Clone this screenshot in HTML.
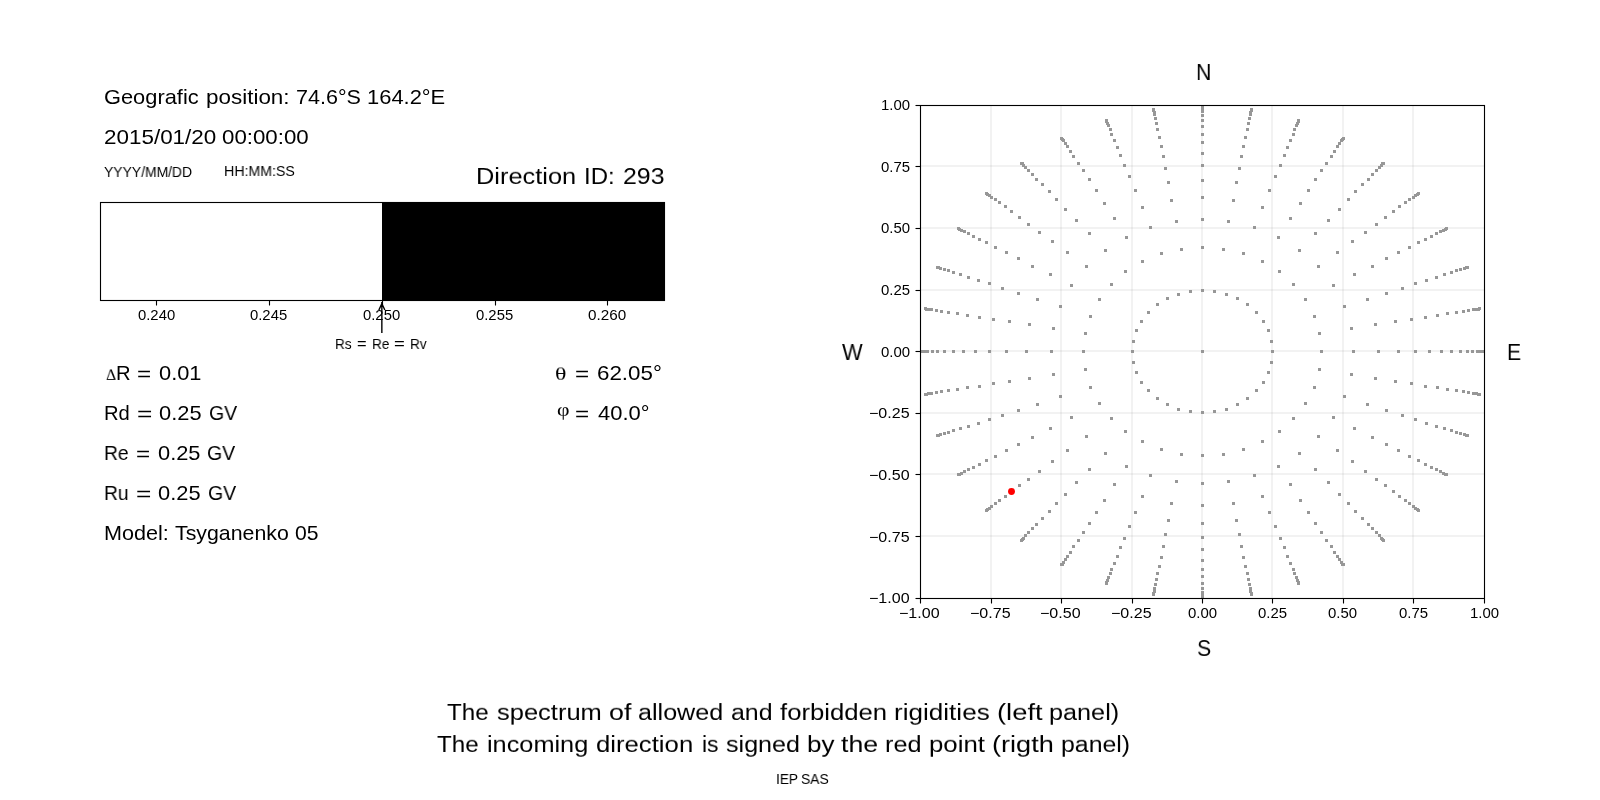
<!DOCTYPE html>
<html lang="en"><head><meta charset="utf-8"><title>Allowed and forbidden rigidities</title>
<style>
html,body{margin:0;padding:0;background:#fff}
body{width:1600px;height:800px;position:relative;overflow:hidden;font-family:"Liberation Sans", sans-serif;color:#000}
.t,.g{position:absolute;white-space:nowrap;line-height:0;transform-origin:0 0;color:#000;will-change:transform}
.t{font-family:"Liberation Sans", sans-serif}.a{font-size:14.4px}.b{font-size:20.2px}.c{font-size:23px;line-height:18px}
.g{font-family:"Liberation Serif", serif;font-size:18px}
</style></head><body>
<svg width="1600" height="800" viewBox="0 0 1600 800" style="position:absolute;left:0;top:0" shape-rendering="crispEdges">
<rect x="382" y="202" width="283" height="99" fill="#000"/>
<rect x="100" y="201" width="565" height="3" fill="#000" fill-opacity=".055"/>
<rect x="100" y="202" width="565" height="1" fill="#000"/>
<rect x="100" y="299" width="565" height="3" fill="#000" fill-opacity=".055"/>
<rect x="100" y="300" width="565" height="1" fill="#000"/>
<rect x="99" y="202" width="3" height="99" fill="#000" fill-opacity=".055"/>
<rect x="100" y="202" width="1" height="99" fill="#000"/>
<rect x="663" y="202" width="3" height="99" fill="#000" fill-opacity=".055"/>
<rect x="664" y="202" width="1" height="99" fill="#000"/>
<rect x="155" y="301" width="3" height="4" fill="#000" fill-opacity=".055"/>
<rect x="156" y="301" width="1" height="4" fill="#000"/>
<rect x="156" y="305" width="1" height="1" fill="#000" fill-opacity=".5"/>
<rect x="268" y="301" width="3" height="4" fill="#000" fill-opacity=".055"/>
<rect x="269" y="301" width="1" height="4" fill="#000"/>
<rect x="269" y="305" width="1" height="1" fill="#000" fill-opacity=".5"/>
<rect x="381" y="301" width="3" height="4" fill="#000" fill-opacity=".055"/>
<rect x="382" y="301" width="1" height="4" fill="#000"/>
<rect x="382" y="305" width="1" height="1" fill="#000" fill-opacity=".5"/>
<rect x="494" y="301" width="3" height="4" fill="#000" fill-opacity=".055"/>
<rect x="495" y="301" width="1" height="4" fill="#000"/>
<rect x="495" y="305" width="1" height="1" fill="#000" fill-opacity=".5"/>
<rect x="606" y="301" width="3" height="4" fill="#000" fill-opacity=".055"/>
<rect x="607" y="301" width="1" height="4" fill="#000"/>
<rect x="607" y="305" width="1" height="1" fill="#000" fill-opacity=".5"/>
<rect x="990" y="106" width="2" height="492" fill="#808080" fill-opacity=".1"/>
<rect x="921" y="535" width="563" height="2" fill="#808080" fill-opacity=".1"/>
<rect x="1060" y="106" width="2" height="492" fill="#808080" fill-opacity=".1"/>
<rect x="921" y="473" width="563" height="2" fill="#808080" fill-opacity=".1"/>
<rect x="1131" y="106" width="2" height="492" fill="#808080" fill-opacity=".1"/>
<rect x="921" y="412" width="563" height="2" fill="#808080" fill-opacity=".1"/>
<rect x="1201" y="106" width="2" height="492" fill="#808080" fill-opacity=".1"/>
<rect x="921" y="350" width="563" height="2" fill="#808080" fill-opacity=".1"/>
<rect x="1271" y="106" width="2" height="492" fill="#808080" fill-opacity=".1"/>
<rect x="921" y="289" width="563" height="2" fill="#808080" fill-opacity=".1"/>
<rect x="1342" y="106" width="2" height="492" fill="#808080" fill-opacity=".1"/>
<rect x="921" y="227" width="563" height="2" fill="#808080" fill-opacity=".1"/>
<rect x="1412" y="106" width="2" height="492" fill="#808080" fill-opacity=".1"/>
<rect x="921" y="165" width="563" height="2" fill="#808080" fill-opacity=".1"/>
<clipPath id="c"><rect x="920" y="105" width="565" height="494"/></clipPath>
<path clip-path="url(#c)" fill="#979797" d="M1201 350h3v3h-3zM1271 350h3v3h-3zM1270 340h3v3h-3zM1267 329h3v3h-3zM1262 320h3v3h-3zM1255 311h3v3h-3zM1246 303h3v3h-3zM1236 297h3v3h-3zM1225 293h3v3h-3zM1213 290h3v3h-3zM1201 289h3v3h-3zM1189 290h3v3h-3zM1177 293h3v3h-3zM1166 297h3v3h-3zM1156 303h3v3h-3zM1147 311h3v3h-3zM1140 320h3v3h-3zM1135 329h3v3h-3zM1132 340h3v3h-3zM1131 350h3v3h-3zM1132 361h3v3h-3zM1135 371h3v3h-3zM1140 381h3v3h-3zM1147 389h3v3h-3zM1156 397h3v3h-3zM1166 403h3v3h-3zM1177 408h3v3h-3zM1189 410h3v3h-3zM1201 411h3v3h-3zM1213 410h3v3h-3zM1225 408h3v3h-3zM1236 403h3v3h-3zM1246 397h3v3h-3zM1255 389h3v3h-3zM1262 381h3v3h-3zM1267 371h3v3h-3zM1270 361h3v3h-3zM1320 350h3v3h-3zM1318 332h3v3h-3zM1313 315h3v3h-3zM1304 298h3v3h-3zM1292 283h3v3h-3zM1278 270h3v3h-3zM1261 260h3v3h-3zM1242 252h3v3h-3zM1222 248h3v3h-3zM1201 246h3v3h-3zM1180 248h3v3h-3zM1160 252h3v3h-3zM1141 260h3v3h-3zM1124 270h3v3h-3zM1110 283h3v3h-3zM1098 298h3v3h-3zM1089 315h3v3h-3zM1084 332h3v3h-3zM1082 350h3v3h-3zM1084 368h3v3h-3zM1089 386h3v3h-3zM1098 402h3v3h-3zM1110 417h3v3h-3zM1124 430h3v3h-3zM1141 440h3v3h-3zM1160 448h3v3h-3zM1180 453h3v3h-3zM1201 454h3v3h-3zM1222 453h3v3h-3zM1242 448h3v3h-3zM1261 440h3v3h-3zM1278 430h3v3h-3zM1292 417h3v3h-3zM1304 402h3v3h-3zM1313 386h3v3h-3zM1318 368h3v3h-3zM1352 350h3v3h-3zM1350 327h3v3h-3zM1343 305h3v3h-3zM1332 284h3v3h-3zM1317 265h3v3h-3zM1298 249h3v3h-3zM1277 236h3v3h-3zM1253 226h3v3h-3zM1227 220h3v3h-3zM1201 218h3v3h-3zM1175 220h3v3h-3zM1149 226h3v3h-3zM1125 236h3v3h-3zM1104 249h3v3h-3zM1085 265h3v3h-3zM1070 284h3v3h-3zM1059 305h3v3h-3zM1052 327h3v3h-3zM1050 350h3v3h-3zM1052 373h3v3h-3zM1059 395h3v3h-3zM1070 416h3v3h-3zM1085 435h3v3h-3zM1104 452h3v3h-3zM1125 465h3v3h-3zM1149 474h3v3h-3zM1175 480h3v3h-3zM1201 482h3v3h-3zM1227 480h3v3h-3zM1253 474h3v3h-3zM1277 465h3v3h-3zM1298 452h3v3h-3zM1317 435h3v3h-3zM1332 416h3v3h-3zM1343 395h3v3h-3zM1350 373h3v3h-3zM1377 350h3v3h-3zM1374 323h3v3h-3zM1366 298h3v3h-3zM1353 273h3v3h-3zM1336 251h3v3h-3zM1314 232h3v3h-3zM1289 217h3v3h-3zM1261 206h3v3h-3zM1232 199h3v3h-3zM1201 196h3v3h-3zM1170 199h3v3h-3zM1141 206h3v3h-3zM1113 217h3v3h-3zM1088 232h3v3h-3zM1066 251h3v3h-3zM1049 273h3v3h-3zM1036 298h3v3h-3zM1028 323h3v3h-3zM1025 350h3v3h-3zM1028 377h3v3h-3zM1036 403h3v3h-3zM1049 427h3v3h-3zM1066 449h3v3h-3zM1088 468h3v3h-3zM1113 483h3v3h-3zM1141 495h3v3h-3zM1170 502h3v3h-3zM1201 504h3v3h-3zM1232 502h3v3h-3zM1261 495h3v3h-3zM1289 483h3v3h-3zM1314 468h3v3h-3zM1336 449h3v3h-3zM1353 427h3v3h-3zM1366 403h3v3h-3zM1374 377h3v3h-3zM1397 350h3v3h-3zM1394 320h3v3h-3zM1385 292h3v3h-3zM1371 265h3v3h-3zM1351 240h3v3h-3zM1327 219h3v3h-3zM1299 202h3v3h-3zM1268 189h3v3h-3zM1235 181h3v3h-3zM1201 179h3v3h-3zM1167 181h3v3h-3zM1134 189h3v3h-3zM1103 202h3v3h-3zM1075 219h3v3h-3zM1051 240h3v3h-3zM1031 265h3v3h-3zM1017 292h3v3h-3zM1008 320h3v3h-3zM1005 350h3v3h-3zM1008 380h3v3h-3zM1017 409h3v3h-3zM1031 436h3v3h-3zM1051 460h3v3h-3zM1075 481h3v3h-3zM1103 499h3v3h-3zM1134 511h3v3h-3zM1167 519h3v3h-3zM1201 522h3v3h-3zM1235 519h3v3h-3zM1268 511h3v3h-3zM1299 499h3v3h-3zM1327 481h3v3h-3zM1351 460h3v3h-3zM1371 436h3v3h-3zM1385 409h3v3h-3zM1394 380h3v3h-3zM1414 350h3v3h-3zM1410 318h3v3h-3zM1401 287h3v3h-3zM1385 257h3v3h-3zM1364 231h3v3h-3zM1338 208h3v3h-3zM1307 189h3v3h-3zM1274 175h3v3h-3zM1238 167h3v3h-3zM1201 164h3v3h-3zM1164 167h3v3h-3zM1128 175h3v3h-3zM1095 189h3v3h-3zM1064 208h3v3h-3zM1038 231h3v3h-3zM1017 257h3v3h-3zM1001 287h3v3h-3zM992 318h3v3h-3zM988 350h3v3h-3zM992 382h3v3h-3zM1001 414h3v3h-3zM1017 443h3v3h-3zM1038 470h3v3h-3zM1064 493h3v3h-3zM1095 511h3v3h-3zM1128 525h3v3h-3zM1164 533h3v3h-3zM1201 536h3v3h-3zM1238 533h3v3h-3zM1274 525h3v3h-3zM1307 511h3v3h-3zM1338 493h3v3h-3zM1364 470h3v3h-3zM1385 443h3v3h-3zM1401 414h3v3h-3zM1410 382h3v3h-3zM1428 350h3v3h-3zM1424 316h3v3h-3zM1414 282h3v3h-3zM1397 251h3v3h-3zM1375 223h3v3h-3zM1347 198h3v3h-3zM1314 178h3v3h-3zM1279 164h3v3h-3zM1240 155h3v3h-3zM1201 152h3v3h-3zM1162 155h3v3h-3zM1123 164h3v3h-3zM1088 178h3v3h-3zM1055 198h3v3h-3zM1027 223h3v3h-3zM1005 251h3v3h-3zM988 282h3v3h-3zM978 316h3v3h-3zM974 350h3v3h-3zM978 385h3v3h-3zM988 418h3v3h-3zM1005 449h3v3h-3zM1027 478h3v3h-3zM1055 502h3v3h-3zM1088 522h3v3h-3zM1123 537h3v3h-3zM1162 545h3v3h-3zM1201 548h3v3h-3zM1240 545h3v3h-3zM1279 537h3v3h-3zM1314 522h3v3h-3zM1347 502h3v3h-3zM1375 478h3v3h-3zM1397 449h3v3h-3zM1414 418h3v3h-3zM1424 385h3v3h-3zM1440 350h3v3h-3zM1436 314h3v3h-3zM1425 279h3v3h-3zM1408 246h3v3h-3zM1384 216h3v3h-3zM1354 190h3v3h-3zM1320 169h3v3h-3zM1283 154h3v3h-3zM1242 145h3v3h-3zM1201 141h3v3h-3zM1160 145h3v3h-3zM1119 154h3v3h-3zM1082 169h3v3h-3zM1048 190h3v3h-3zM1018 216h3v3h-3zM994 246h3v3h-3zM977 279h3v3h-3zM966 314h3v3h-3zM962 350h3v3h-3zM966 386h3v3h-3zM977 422h3v3h-3zM994 455h3v3h-3zM1018 484h3v3h-3zM1048 510h3v3h-3zM1082 531h3v3h-3zM1119 546h3v3h-3zM1160 556h3v3h-3zM1201 559h3v3h-3zM1242 556h3v3h-3zM1283 546h3v3h-3zM1320 531h3v3h-3zM1354 510h3v3h-3zM1384 484h3v3h-3zM1408 455h3v3h-3zM1425 422h3v3h-3zM1436 386h3v3h-3zM1450 350h3v3h-3zM1446 312h3v3h-3zM1435 276h3v3h-3zM1417 241h3v3h-3zM1392 210h3v3h-3zM1361 183h3v3h-3zM1325 162h3v3h-3zM1286 146h3v3h-3zM1244 136h3v3h-3zM1201 133h3v3h-3zM1158 136h3v3h-3zM1116 146h3v3h-3zM1077 162h3v3h-3zM1041 183h3v3h-3zM1010 210h3v3h-3zM985 241h3v3h-3zM967 276h3v3h-3zM956 312h3v3h-3zM952 350h3v3h-3zM956 388h3v3h-3zM967 425h3v3h-3zM985 459h3v3h-3zM1010 490h3v3h-3zM1041 517h3v3h-3zM1077 539h3v3h-3zM1116 555h3v3h-3zM1158 565h3v3h-3zM1201 568h3v3h-3zM1244 565h3v3h-3zM1286 555h3v3h-3zM1325 539h3v3h-3zM1361 517h3v3h-3zM1392 490h3v3h-3zM1417 459h3v3h-3zM1435 425h3v3h-3zM1446 388h3v3h-3zM1459 350h3v3h-3zM1455 311h3v3h-3zM1443 273h3v3h-3zM1424 238h3v3h-3zM1398 205h3v3h-3zM1367 178h3v3h-3zM1330 155h3v3h-3zM1289 139h3v3h-3zM1246 128h3v3h-3zM1201 125h3v3h-3zM1156 128h3v3h-3zM1113 139h3v3h-3zM1072 155h3v3h-3zM1035 178h3v3h-3zM1004 205h3v3h-3zM978 238h3v3h-3zM959 273h3v3h-3zM947 311h3v3h-3zM943 350h3v3h-3zM947 389h3v3h-3zM959 427h3v3h-3zM978 463h3v3h-3zM1004 495h3v3h-3zM1035 523h3v3h-3zM1072 545h3v3h-3zM1113 562h3v3h-3zM1156 572h3v3h-3zM1201 575h3v3h-3zM1246 572h3v3h-3zM1289 562h3v3h-3zM1330 545h3v3h-3zM1367 523h3v3h-3zM1398 495h3v3h-3zM1424 463h3v3h-3zM1443 427h3v3h-3zM1455 389h3v3h-3zM1466 350h3v3h-3zM1462 310h3v3h-3zM1450 271h3v3h-3zM1430 235h3v3h-3zM1404 201h3v3h-3zM1371 173h3v3h-3zM1333 150h3v3h-3zM1292 133h3v3h-3zM1247 122h3v3h-3zM1201 119h3v3h-3zM1155 122h3v3h-3zM1110 133h3v3h-3zM1069 150h3v3h-3zM1031 173h3v3h-3zM998 201h3v3h-3zM972 235h3v3h-3zM952 271h3v3h-3zM940 310h3v3h-3zM936 350h3v3h-3zM940 390h3v3h-3zM952 429h3v3h-3zM972 466h3v3h-3zM998 499h3v3h-3zM1031 527h3v3h-3zM1069 551h3v3h-3zM1110 568h3v3h-3zM1155 578h3v3h-3zM1201 582h3v3h-3zM1247 578h3v3h-3zM1292 568h3v3h-3zM1333 551h3v3h-3zM1371 527h3v3h-3zM1404 499h3v3h-3zM1430 466h3v3h-3zM1450 429h3v3h-3zM1462 390h3v3h-3zM1471 350h3v3h-3zM1467 309h3v3h-3zM1455 269h3v3h-3zM1435 232h3v3h-3zM1408 198h3v3h-3zM1375 169h3v3h-3zM1336 145h3v3h-3zM1293 128h3v3h-3zM1248 117h3v3h-3zM1201 114h3v3h-3zM1154 117h3v3h-3zM1109 128h3v3h-3zM1066 145h3v3h-3zM1027 169h3v3h-3zM994 198h3v3h-3zM967 232h3v3h-3zM947 269h3v3h-3zM935 309h3v3h-3zM931 350h3v3h-3zM935 391h3v3h-3zM947 431h3v3h-3zM967 468h3v3h-3zM994 502h3v3h-3zM1027 531h3v3h-3zM1066 555h3v3h-3zM1109 572h3v3h-3zM1154 583h3v3h-3zM1201 587h3v3h-3zM1248 583h3v3h-3zM1293 572h3v3h-3zM1336 555h3v3h-3zM1375 531h3v3h-3zM1408 502h3v3h-3zM1435 468h3v3h-3zM1455 431h3v3h-3zM1467 391h3v3h-3zM1476 350h3v3h-3zM1472 308h3v3h-3zM1459 268h3v3h-3zM1439 230h3v3h-3zM1412 196h3v3h-3zM1378 166h3v3h-3zM1338 142h3v3h-3zM1295 124h3v3h-3zM1249 113h3v3h-3zM1201 110h3v3h-3zM1153 113h3v3h-3zM1107 124h3v3h-3zM1064 142h3v3h-3zM1024 166h3v3h-3zM990 196h3v3h-3zM963 230h3v3h-3zM943 268h3v3h-3zM930 308h3v3h-3zM926 350h3v3h-3zM930 392h3v3h-3zM943 432h3v3h-3zM963 470h3v3h-3zM990 505h3v3h-3zM1024 534h3v3h-3zM1064 558h3v3h-3zM1107 576h3v3h-3zM1153 587h3v3h-3zM1201 591h3v3h-3zM1249 587h3v3h-3zM1295 576h3v3h-3zM1338 558h3v3h-3zM1378 534h3v3h-3zM1412 505h3v3h-3zM1439 470h3v3h-3zM1459 432h3v3h-3zM1472 392h3v3h-3zM1479 350h3v3h-3zM1475 308h3v3h-3zM1463 267h3v3h-3zM1442 229h3v3h-3zM1414 194h3v3h-3zM1380 164h3v3h-3zM1340 139h3v3h-3zM1296 122h3v3h-3zM1249 111h3v3h-3zM1201 107h3v3h-3zM1153 111h3v3h-3zM1106 122h3v3h-3zM1062 139h3v3h-3zM1022 164h3v3h-3zM988 194h3v3h-3zM960 229h3v3h-3zM939 267h3v3h-3zM927 308h3v3h-3zM923 350h3v3h-3zM927 392h3v3h-3zM939 433h3v3h-3zM960 472h3v3h-3zM988 507h3v3h-3zM1022 537h3v3h-3zM1062 561h3v3h-3zM1106 579h3v3h-3zM1153 590h3v3h-3zM1201 594h3v3h-3zM1249 590h3v3h-3zM1296 579h3v3h-3zM1340 561h3v3h-3zM1380 537h3v3h-3zM1414 507h3v3h-3zM1442 472h3v3h-3zM1463 433h3v3h-3zM1475 392h3v3h-3zM1482 350h3v3h-3zM1477 308h3v3h-3zM1465 266h3v3h-3zM1444 228h3v3h-3zM1416 193h3v3h-3zM1381 162h3v3h-3zM1341 138h3v3h-3zM1297 120h3v3h-3zM1250 109h3v3h-3zM1201 105h3v3h-3zM1152 109h3v3h-3zM1105 120h3v3h-3zM1061 138h3v3h-3zM1021 162h3v3h-3zM986 193h3v3h-3zM958 228h3v3h-3zM937 266h3v3h-3zM925 308h3v3h-3zM920 350h3v3h-3zM925 393h3v3h-3zM937 434h3v3h-3zM958 473h3v3h-3zM986 508h3v3h-3zM1021 538h3v3h-3zM1061 563h3v3h-3zM1105 581h3v3h-3zM1152 592h3v3h-3zM1201 596h3v3h-3zM1250 592h3v3h-3zM1297 581h3v3h-3zM1341 563h3v3h-3zM1381 538h3v3h-3zM1416 508h3v3h-3zM1444 473h3v3h-3zM1465 434h3v3h-3zM1477 393h3v3h-3zM1483 350h3v3h-3zM1478 307h3v3h-3zM1466 266h3v3h-3zM1445 227h3v3h-3zM1417 192h3v3h-3zM1382 162h3v3h-3zM1342 137h3v3h-3zM1297 119h3v3h-3zM1250 108h3v3h-3zM1201 104h3v3h-3zM1152 108h3v3h-3zM1105 119h3v3h-3zM1060 137h3v3h-3zM1020 162h3v3h-3zM985 192h3v3h-3zM957 227h3v3h-3zM936 266h3v3h-3zM924 307h3v3h-3zM919 350h3v3h-3zM924 393h3v3h-3zM936 434h3v3h-3zM957 473h3v3h-3zM985 509h3v3h-3zM1020 539h3v3h-3zM1060 563h3v3h-3zM1105 582h3v3h-3zM1152 593h3v3h-3zM1201 596h3v3h-3zM1250 593h3v3h-3zM1297 582h3v3h-3zM1342 563h3v3h-3zM1382 539h3v3h-3zM1417 509h3v3h-3zM1445 473h3v3h-3zM1466 434h3v3h-3zM1478 393h3v3h-3z"/>
<rect x="920" y="104" width="565" height="3" fill="#000" fill-opacity=".055"/>
<rect x="920" y="105" width="565" height="1" fill="#000"/>
<rect x="920" y="597" width="565" height="3" fill="#000" fill-opacity=".055"/>
<rect x="920" y="598" width="565" height="1" fill="#000"/>
<rect x="919" y="105" width="3" height="494" fill="#000" fill-opacity=".055"/>
<rect x="920" y="105" width="1" height="494" fill="#000"/>
<rect x="1483" y="105" width="3" height="494" fill="#000" fill-opacity=".055"/>
<rect x="1484" y="105" width="1" height="494" fill="#000"/>
<rect x="919" y="599" width="3" height="4" fill="#000" fill-opacity=".055"/>
<rect x="920" y="599" width="1" height="4" fill="#000"/>
<rect x="920" y="603" width="1" height="1" fill="#000" fill-opacity=".5"/>
<rect x="916" y="597" width="4" height="3" fill="#000" fill-opacity=".055"/>
<rect x="916" y="598" width="4" height="1" fill="#000"/>
<rect x="915" y="598" width="1" height="1" fill="#000" fill-opacity=".5"/>
<rect x="990" y="599" width="3" height="4" fill="#000" fill-opacity=".055"/>
<rect x="991" y="599" width="1" height="4" fill="#000"/>
<rect x="991" y="603" width="1" height="1" fill="#000" fill-opacity=".5"/>
<rect x="916" y="535" width="4" height="3" fill="#000" fill-opacity=".055"/>
<rect x="916" y="536" width="4" height="1" fill="#000"/>
<rect x="915" y="536" width="1" height="1" fill="#000" fill-opacity=".5"/>
<rect x="1060" y="599" width="3" height="4" fill="#000" fill-opacity=".055"/>
<rect x="1061" y="599" width="1" height="4" fill="#000"/>
<rect x="1061" y="603" width="1" height="1" fill="#000" fill-opacity=".5"/>
<rect x="916" y="473" width="4" height="3" fill="#000" fill-opacity=".055"/>
<rect x="916" y="474" width="4" height="1" fill="#000"/>
<rect x="915" y="474" width="1" height="1" fill="#000" fill-opacity=".5"/>
<rect x="1131" y="599" width="3" height="4" fill="#000" fill-opacity=".055"/>
<rect x="1132" y="599" width="1" height="4" fill="#000"/>
<rect x="1132" y="603" width="1" height="1" fill="#000" fill-opacity=".5"/>
<rect x="916" y="412" width="4" height="3" fill="#000" fill-opacity=".055"/>
<rect x="916" y="413" width="4" height="1" fill="#000"/>
<rect x="915" y="413" width="1" height="1" fill="#000" fill-opacity=".5"/>
<rect x="1201" y="599" width="3" height="4" fill="#000" fill-opacity=".055"/>
<rect x="1202" y="599" width="1" height="4" fill="#000"/>
<rect x="1202" y="603" width="1" height="1" fill="#000" fill-opacity=".5"/>
<rect x="916" y="350" width="4" height="3" fill="#000" fill-opacity=".055"/>
<rect x="916" y="351" width="4" height="1" fill="#000"/>
<rect x="915" y="351" width="1" height="1" fill="#000" fill-opacity=".5"/>
<rect x="1271" y="599" width="3" height="4" fill="#000" fill-opacity=".055"/>
<rect x="1272" y="599" width="1" height="4" fill="#000"/>
<rect x="1272" y="603" width="1" height="1" fill="#000" fill-opacity=".5"/>
<rect x="916" y="289" width="4" height="3" fill="#000" fill-opacity=".055"/>
<rect x="916" y="290" width="4" height="1" fill="#000"/>
<rect x="915" y="290" width="1" height="1" fill="#000" fill-opacity=".5"/>
<rect x="1342" y="599" width="3" height="4" fill="#000" fill-opacity=".055"/>
<rect x="1343" y="599" width="1" height="4" fill="#000"/>
<rect x="1343" y="603" width="1" height="1" fill="#000" fill-opacity=".5"/>
<rect x="916" y="227" width="4" height="3" fill="#000" fill-opacity=".055"/>
<rect x="916" y="228" width="4" height="1" fill="#000"/>
<rect x="915" y="228" width="1" height="1" fill="#000" fill-opacity=".5"/>
<rect x="1412" y="599" width="3" height="4" fill="#000" fill-opacity=".055"/>
<rect x="1413" y="599" width="1" height="4" fill="#000"/>
<rect x="1413" y="603" width="1" height="1" fill="#000" fill-opacity=".5"/>
<rect x="916" y="165" width="4" height="3" fill="#000" fill-opacity=".055"/>
<rect x="916" y="166" width="4" height="1" fill="#000"/>
<rect x="915" y="166" width="1" height="1" fill="#000" fill-opacity=".5"/>
<rect x="1483" y="599" width="3" height="4" fill="#000" fill-opacity=".055"/>
<rect x="1484" y="599" width="1" height="4" fill="#000"/>
<rect x="1484" y="603" width="1" height="1" fill="#000" fill-opacity=".5"/>
<rect x="916" y="104" width="4" height="3" fill="#000" fill-opacity=".055"/>
<rect x="916" y="105" width="4" height="1" fill="#000"/>
<rect x="915" y="105" width="1" height="1" fill="#000" fill-opacity=".5"/>
</svg>
<svg width="1600" height="800" viewBox="0 0 1600 800" style="position:absolute;left:0;top:0">
<circle cx="1011.5" cy="491.5" r="3.43" fill="#f00"/>
<path d="M381.85 333.1V302M378.85 310L381.85 303.6L384.85 310" fill="none" stroke="#000" stroke-width="1.39" stroke-linecap="butt" stroke-linejoin="miter"/>
</svg>
<div><span class="t b" style="left:104.20px;top:97.30px;transform:scaleX(1.0814)">Geografic</span> <span class="t b" style="left:206.20px;top:97.30px;transform:scaleX(1.1115)">position:</span> <span class="t b" style="left:296.20px;top:97.30px;transform:scaleX(1.0678)">74.6°S</span> <span class="t b" style="left:367.20px;top:97.30px;transform:scaleX(1.0859)">164.2°E</span></div>
<div><span class="t b" style="left:104.20px;top:137.30px;transform:scaleX(1.1111)">2015/01/20</span> <span class="t b" style="left:222.20px;top:137.30px;transform:scaleX(1.1039)">00:00:00</span></div>
<div><span class="t a" style="left:104.20px;top:172.30px;transform:scaleX(0.9663)">YYYY/MM/DD</span></div>
<div><span class="t a" style="left:224.20px;top:171.30px;transform:scaleX(0.9857)">HH:MM:SS</span></div>
<div><span class="t c" style="left:476.20px;top:168.30px;transform:scale(1.1036,0.9412)">Direction</span> <span class="t c" style="left:584.20px;top:168.30px;transform:scale(1.0431,0.9412)">ID:</span> <span class="t c" style="left:623.20px;top:168.30px;transform:scale(1.0833,0.9412)">293</span></div>
<div><span class="g" style="left:106.2px;top:375.2px;transform:scale(.87,.8)">&#916;</span><span class="t b" style="left:116.20px;top:373.30px;transform:scaleX(1.0000)">R</span> <span class="t b" style="left:137.20px;top:374.30px;transform:scaleX(1.2000)">=</span> <span class="t b" style="left:159.20px;top:373.30px;transform:scaleX(1.0811)">0.01</span></div>
<div><span class="t b" style="left:104.20px;top:413.30px;transform:scaleX(1.0000)">Rd</span> <span class="t b" style="left:137.20px;top:414.30px;transform:scaleX(1.3000)">=</span> <span class="t b" style="left:159.20px;top:413.30px;transform:scaleX(1.0824)">0.25</span> <span class="t b" style="left:209.20px;top:413.30px;transform:scaleX(0.9643)">GV</span></div>
<div><span class="t b" style="left:104.20px;top:453.30px;transform:scaleX(0.9565)">Re</span> <span class="t b" style="left:136.20px;top:454.30px;transform:scaleX(1.2000)">=</span> <span class="t b" style="left:158.20px;top:453.30px;transform:scaleX(1.0811)">0.25</span> <span class="t b" style="left:207.20px;top:453.30px;transform:scaleX(0.9643)">GV</span></div>
<div><span class="t b" style="left:104.20px;top:493.30px;transform:scaleX(0.9545)">Ru</span> <span class="t b" style="left:136.20px;top:494.30px;transform:scaleX(1.3000)">=</span> <span class="t b" style="left:158.20px;top:493.30px;transform:scaleX(1.0824)">0.25</span> <span class="t b" style="left:208.20px;top:493.30px;transform:scaleX(0.9643)">GV</span></div>
<div><span class="t b" style="left:104.20px;top:533.30px;transform:scaleX(1.0702)">Model:</span> <span class="t b" style="left:175.20px;top:533.30px;transform:scaleX(1.0561)">Tsyganenko</span> <span class="t b" style="left:295.20px;top:533.30px;transform:scaleX(1.0476)">05</span></div>
<div><span class="g" style="left:555.2px;top:374.2px;transform:scale(1.327,.94)">&#952;</span> <span class="t b" style="left:575.20px;top:374.30px;transform:scaleX(1.2000)">=</span> <span class="t b" style="left:597.20px;top:373.30px;transform:scaleX(1.1077)">62.05°</span></div>
<div><span class="g" style="left:557.2px;top:410.2px;transform:scale(1.2045,.9737)">&#966;</span> <span class="t b" style="left:575.20px;top:414.30px;transform:scaleX(1.2000)">=</span> <span class="t b" style="left:598.20px;top:413.30px;transform:scaleX(1.0870)">40.0°</span></div>
<div><span class="t c" style="left:1196.20px;top:64.30px;transform:scale(0.9231,0.9412)">N</span></div>
<div><span class="t c" style="left:1197.20px;top:640.30px;transform:scale(0.9231,0.9412)">S</span></div>
<div><span class="t c" style="left:842.20px;top:344.30px;transform:scale(0.9524,0.9412)">W</span></div>
<div><span class="t c" style="left:1507.20px;top:344.30px;transform:scale(0.9167,0.9412)">E</span></div>
<div><span class="t c" style="left:447.20px;top:704.30px;transform:scale(1.0519,0.9412)">The</span> <span class="t c" style="left:497.20px;top:704.30px;transform:scale(1.1087,0.9412)">spectrum</span> <span class="t c" style="left:609.20px;top:704.30px;transform:scale(1.1667,0.9412)">of</span> <span class="t c" style="left:638.20px;top:704.30px;transform:scale(1.0921,0.9412)">allowed</span> <span class="t c" style="left:731.20px;top:704.30px;transform:scale(1.0833,0.9412)">and</span> <span class="t c" style="left:780.20px;top:704.30px;transform:scale(1.1170,0.9412)">forbidden</span> <span class="t c" style="left:894.20px;top:704.30px;transform:scale(1.1341,0.9412)">rigidities</span> <span class="t c" style="left:997.20px;top:704.30px;transform:scale(1.1898,0.9412)">(left</span> <span class="t c" style="left:1049.20px;top:704.30px;transform:scale(1.0970,0.9412)">panel)</span></div>
<div><span class="t c" style="left:437.20px;top:736.30px;transform:scale(1.0519,0.9412)">The</span> <span class="t c" style="left:487.20px;top:736.30px;transform:scale(1.1001,0.9412)">incoming</span> <span class="t c" style="left:596.20px;top:736.30px;transform:scale(1.1178,0.9412)">direction</span> <span class="t c" style="left:702.20px;top:736.30px;transform:scale(1.0000,0.9412)">is</span> <span class="t c" style="left:726.20px;top:736.30px;transform:scale(1.0923,0.9412)">signed</span> <span class="t c" style="left:807.20px;top:736.30px;transform:scale(1.1322,0.9412)">by</span> <span class="t c" style="left:841.20px;top:736.30px;transform:scale(1.1622,0.9412)">the</span> <span class="t c" style="left:885.20px;top:736.30px;transform:scale(1.0978,0.9412)">red</span> <span class="t c" style="left:929.20px;top:736.30px;transform:scale(1.1228,0.9412)">point</span> <span class="t c" style="left:992.20px;top:736.30px;transform:scale(1.1804,0.9412)">(rigth</span> <span class="t c" style="left:1061.20px;top:736.30px;transform:scale(1.0809,0.9412)">panel)</span></div>
<div><span class="t a" style="left:776.20px;top:779.30px;transform:scaleX(0.9524)">IEP</span> <span class="t a" style="left:801.20px;top:779.30px;transform:scaleX(0.9630)">SAS</span></div>
<div><span class="t a" style="left:335.20px;top:344.30px;transform:scaleX(0.9375)">Rs</span> <span class="t a" style="left:357.20px;top:344.30px;transform:scaleX(1.1429)">=</span> <span class="t a" style="left:372.20px;top:344.30px;transform:scaleX(0.9412)">Re</span> <span class="t a" style="left:394.20px;top:344.30px;transform:scaleX(1.2857)">=</span> <span class="t a" style="left:410.20px;top:344.30px;transform:scaleX(0.9412)">Rv</span></div>
<div><span class="t a" style="left:138.20px;top:315.30px;transform:scaleX(1.0310)">0.240</span></div>
<div><span class="t a" style="left:250.20px;top:315.30px;transform:scaleX(1.0310)">0.245</span></div>
<div><span class="t a" style="left:363.20px;top:315.30px;transform:scaleX(1.0310)">0.250</span></div>
<div><span class="t a" style="left:476.20px;top:315.30px;transform:scaleX(1.0310)">0.255</span></div>
<div><span class="t a" style="left:588.20px;top:315.30px;transform:scaleX(1.0596)">0.260</span></div>
<div><span class="t a" style="left:899.20px;top:613.30px;transform:scaleX(1.1143)">−1.00</span></div>
<div><span class="t a" style="left:970.20px;top:613.30px;transform:scaleX(1.1143)">−0.75</span></div>
<div><span class="t a" style="left:1040.20px;top:613.30px;transform:scaleX(1.1143)">−0.50</span></div>
<div><span class="t a" style="left:1111.20px;top:613.30px;transform:scaleX(1.1143)">−0.25</span></div>
<div><span class="t a" style="left:1188.20px;top:613.30px;transform:scaleX(1.0398)">0.00</span></div>
<div><span class="t a" style="left:1258.20px;top:613.30px;transform:scaleX(1.0385)">0.25</span></div>
<div><span class="t a" style="left:1328.20px;top:613.30px;transform:scaleX(1.0398)">0.50</span></div>
<div><span class="t a" style="left:1399.20px;top:613.30px;transform:scaleX(1.0385)">0.75</span></div>
<div><span class="t a" style="left:1470.20px;top:613.30px;transform:scaleX(1.0385)">1.00</span></div>
<div><span class="t a" style="left:869.20px;top:598.30px;transform:scaleX(1.1143)">−1.00</span></div>
<div><span class="t a" style="left:869.20px;top:537.30px;transform:scaleX(1.1143)">−0.75</span></div>
<div><span class="t a" style="left:869.20px;top:475.30px;transform:scaleX(1.1143)">−0.50</span></div>
<div><span class="t a" style="left:869.20px;top:413.30px;transform:scaleX(1.1143)">−0.25</span></div>
<div><span class="t a" style="left:881.20px;top:352.30px;transform:scaleX(1.0398)">0.00</span></div>
<div><span class="t a" style="left:881.20px;top:290.30px;transform:scaleX(1.0385)">0.25</span></div>
<div><span class="t a" style="left:881.20px;top:228.30px;transform:scaleX(1.0398)">0.50</span></div>
<div><span class="t a" style="left:881.20px;top:167.30px;transform:scaleX(1.0385)">0.75</span></div>
<div><span class="t a" style="left:881.20px;top:105.30px;transform:scaleX(1.0385)">1.00</span></div>
</body></html>
